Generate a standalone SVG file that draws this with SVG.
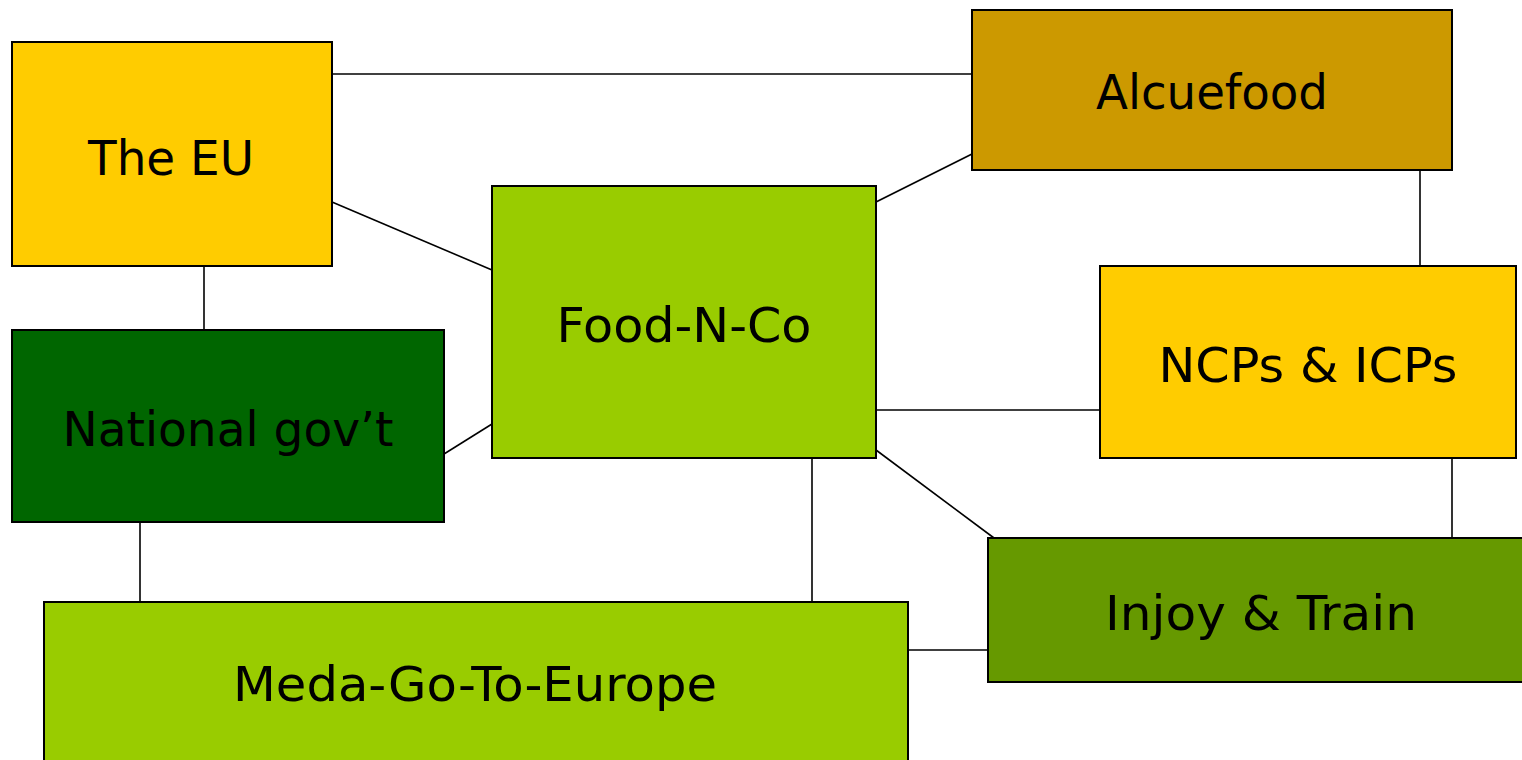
<svg xmlns="http://www.w3.org/2000/svg" width="1522" height="760" viewBox="0 0 1522 760">
<style>
.n{stroke:#000;stroke-width:2}
.t{font-family:"DejaVu Sans",Verdana,sans-serif;font-size:48px;fill:#000;text-anchor:middle}
.c line{stroke:#000;stroke-width:1.6}
</style>
<rect width="1522" height="760" fill="#fff"/>
<g class="c" id="connectors">
<line x1="332" y1="74" x2="972" y2="74"/>
<line x1="332" y1="202" x2="492" y2="270"/>
<line x1="204" y1="266" x2="204" y2="330"/>
<line x1="876" y1="202" x2="972" y2="154"/>
<line x1="1420" y1="170" x2="1420" y2="266"/>
<line x1="444" y1="454" x2="492" y2="424"/>
<line x1="876" y1="410" x2="1100" y2="410"/>
<line x1="876" y1="450" x2="994" y2="538"/>
<line x1="812" y1="458" x2="812" y2="602"/>
<line x1="140" y1="522" x2="140" y2="602"/>
<line x1="1452" y1="458" x2="1452" y2="538"/>
<line x1="908" y1="650" x2="988" y2="650"/>
</g>
<g id="eu"><rect class="n" x="12" y="42" width="320" height="224" fill="#FFCC00"/><text class="t" x="171" y="175" textLength="166" lengthAdjust="spacingAndGlyphs">The EU</text></g>
<g id="alcuefood"><rect class="n" x="972" y="10" width="480" height="160" fill="#CC9900"/><text class="t" x="1212" y="109" textLength="232" lengthAdjust="spacingAndGlyphs">Alcuefood</text></g>
<g id="foodnco"><rect class="n" x="492" y="186" width="384" height="272" fill="#99CC00"/><text class="t" x="684" y="342" textLength="255" lengthAdjust="spacingAndGlyphs">Food-N-Co</text></g>
<g id="ncps"><rect class="n" x="1100" y="266" width="416" height="192" fill="#FFCC00"/><text class="t" x="1308" y="382" textLength="299" lengthAdjust="spacingAndGlyphs">NCPs &amp; ICPs</text></g>
<g id="natgov"><rect class="n" x="12" y="330" width="432" height="192" fill="#006600"/><text class="t" x="228" y="446" textLength="331" lengthAdjust="spacingAndGlyphs">National gov’t</text></g>
<g id="injoy"><rect class="n" x="988" y="538" width="546" height="144" fill="#669900"/><text class="t" x="1261" y="630" textLength="312" lengthAdjust="spacingAndGlyphs">Injoy &amp; Train</text></g>
<g id="meda"><rect class="n" x="44" y="602" width="864" height="170" fill="#99CC00"/><text class="t" x="475" y="701" textLength="484" lengthAdjust="spacingAndGlyphs">Meda-Go-To-Europe</text></g>
</svg>
